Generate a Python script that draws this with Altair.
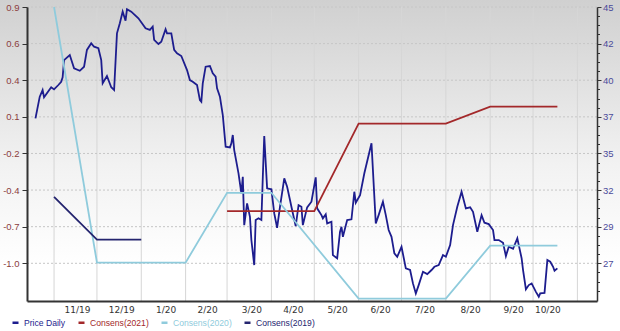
import json
import altair as alt
import pandas as pd

# ---------------- data ----------------
price_dates = [
    "2019-10-19", "2019-10-22", "2019-10-24", "2019-10-25", "2019-10-30", "2019-11-01", "2019-11-04",
    "2019-11-06", "2019-11-07", "2019-11-08", "2019-11-12", "2019-11-15", "2019-11-19", "2019-11-22",
    "2019-11-24", "2019-11-27", "2019-11-29", "2019-12-02", "2019-12-04", "2019-12-05", "2019-12-08",
    "2019-12-11", "2019-12-13", "2019-12-15", "2019-12-17", "2019-12-19", "2019-12-21", "2019-12-22",
    "2019-12-25", "2019-12-30", "2020-01-04", "2020-01-07", "2020-01-09", "2020-01-10", "2020-01-13",
    "2020-01-15", "2020-01-18", "2020-01-19", "2020-01-22", "2020-01-24", "2020-01-26", "2020-01-29",
    "2020-02-02", "2020-02-04", "2020-02-06", "2020-02-09", "2020-02-11", "2020-02-12", "2020-02-13",
    "2020-02-15", "2020-02-18", "2020-02-20", "2020-02-22", "2020-02-23", "2020-02-25", "2020-02-27",
    "2020-02-29", "2020-03-03", "2020-03-04", "2020-03-05", "2020-03-06", "2020-03-09", "2020-03-11",
    "2020-03-12", "2020-03-13", "2020-03-15", "2020-03-17", "2020-03-18", "2020-03-20", "2020-03-21",
    "2020-03-23", "2020-03-25", "2020-03-26", "2020-03-27", "2020-03-29", "2020-04-01", "2020-04-03",
    "2020-04-05", "2020-04-07", "2020-04-10", "2020-04-12", "2020-04-14", "2020-04-15", "2020-04-18",
    "2020-04-20", "2020-04-22", "2020-04-23", "2020-04-26", "2020-04-29", "2020-05-02", "2020-05-03",
    "2020-05-06", "2020-05-07", "2020-05-09", "2020-05-10", "2020-05-13", "2020-05-14", "2020-05-17",
    "2020-05-19", "2020-05-20", "2020-05-21", "2020-05-24", "2020-05-27", "2020-05-29", "2020-05-30",
    "2020-06-02", "2020-06-05", "2020-06-10", "2020-06-13", "2020-06-15", "2020-06-18", "2020-06-20",
    "2020-06-22", "2020-06-24", "2020-06-26", "2020-06-28", "2020-07-01", "2020-07-04", "2020-07-07",
    "2020-07-09", "2020-07-11", "2020-07-13", "2020-07-16", "2020-07-19", "2020-07-22", "2020-07-24",
    "2020-07-27", "2020-07-30", "2020-08-01", "2020-08-04", "2020-08-06", "2020-08-09", "2020-08-12",
    "2020-08-15", "2020-08-18", "2020-08-20", "2020-08-23", "2020-08-26", "2020-08-28", "2020-08-31",
    "2020-09-03", "2020-09-04", "2020-09-07", "2020-09-10", "2020-09-12", "2020-09-14", "2020-09-17",
    "2020-09-20", "2020-09-21", "2020-09-23", "2020-09-24", "2020-09-26", "2020-09-28", "2020-09-30",
    "2020-10-03", "2020-10-05", "2020-10-06", "2020-10-09", "2020-10-11", "2020-10-13", "2020-10-15",
    "2020-10-16", "2020-10-18",
]
price_values = [
    37.09, 38.63, 39.10, 38.59, 39.30, 39.15, 39.46,
    39.69, 40.01, 41.23, 41.59, 40.65, 40.47, 40.76,
    41.95, 42.42, 42.18, 42.07, 41.23, 39.58, 40.10,
    39.30, 39.10, 43.13, 43.84, 44.67, 44.03, 44.84,
    44.67, 44.20, 43.49, 43.37, 43.60, 42.66, 42.37,
    42.53, 43.42, 43.13, 43.13, 41.95, 41.71, 41.52,
    40.52, 39.81, 39.69, 39.46, 38.39, 38.27, 39.58,
    40.76, 40.81, 40.29, 40.05, 39.22, 38.63, 37.33,
    35.08, 35.03, 35.32, 35.91, 34.84, 33.19, 31.77,
    32.94, 29.51, 31.05, 30.10, 28.45, 26.67, 29.87,
    29.99, 29.87, 32.94, 35.84, 32.12, 32.05, 30.34,
    29.32, 30.81, 32.83, 32.23, 31.29, 30.81, 29.44,
    30.93, 30.81, 29.51, 30.77, 31.17, 32.90, 30.70,
    30.22, 29.99, 30.27, 29.63, 29.75, 27.38, 27.15,
    29.04, 29.39, 28.68, 29.87, 29.92, 31.88, 31.10,
    31.64, 33.19, 35.32, 29.63, 30.22, 31.17, 30.22,
    29.16, 28.68, 27.50, 27.26, 27.97, 26.44, 26.32,
    25.37, 24.66, 25.25, 26.20, 26.03, 26.32, 26.55,
    26.67, 27.38, 27.26, 28.09, 29.51, 30.81, 31.88,
    30.70, 30.77, 30.46, 29.04, 30.22, 29.68, 29.58,
    29.16, 28.45, 28.45, 28.26, 27.31, 27.97, 27.83,
    28.57, 28.09, 27.15, 26.32, 24.95, 25.25, 25.37,
    24.77, 24.42, 24.66, 24.70, 27.03, 26.91, 26.55,
    26.27, 26.44,
]

c2021_dates = ["2020-03-01", "2020-05-01", "2020-06-01", "2020-08-01", "2020-09-01", "2020-10-18"]
c2021_values = [-0.605, -0.605, 0.04, 0.04, 0.165, 0.165]

c2020_dates = ["2019-11-01", "2019-12-01", "2020-02-01", "2020-03-01", "2020-04-01",
               "2020-06-01", "2020-08-01", "2020-09-01", "2020-10-18"]
c2020_values = [0.90, -0.985, -0.985, -0.47, -0.47, -1.25, -1.25, -0.86, -0.86]

c2019_dates = ["2019-11-01", "2019-12-01", "2020-01-01"]
c2019_values = [-0.50, -0.815, -0.815]

series_names = ["Price Daily", "Consens(2021)", "Consens(2020)", "Consens(2019)"]
series_colors = ["#1d1d8e", "#a3282a", "#8fcbdc", "#25256f"]

left_tick_values = [0.9, 0.63, 0.36, 0.09, -0.18, -0.45, -0.72, -0.99]
left_tick_labels = ["0.9", "0.6", "0.4", "0.1", "-0.2", "-0.4", "-0.7", "-1.0"]
left_domain = [-1.268, 0.9]

right_tick_values = [45, 42.4, 39.8, 37.2, 34.6, 32.0, 29.4, 26.8]
right_tick_labels = ["45", "42", "40", "37", "35", "32", "29", "27"]
right_minor_ticks = [45, 44.35, 43.7, 43.05, 42.4, 41.75, 41.1, 40.45, 39.8, 39.15, 38.5, 37.85,
                     37.2, 36.55, 35.9, 35.25, 34.6, 33.95, 33.3, 32.65, 32.0, 31.35, 30.7, 30.05,
                     29.4, 28.75, 28.1, 27.45, 26.8, 26.15, 25.5, 24.85]
right_domain = [24.12, 45]

x_label_dates = ["2019-11-17", "2019-12-18", "2020-01-18", "2020-02-16", "2020-03-18", "2020-04-16",
                 "2020-05-17", "2020-06-16", "2020-07-17", "2020-08-18", "2020-09-17", "2020-10-11"]
grid_dates = ["2019-11-01", "2019-12-01", "2020-01-01", "2020-02-01", "2020-03-01", "2020-04-01",
              "2020-05-01", "2020-06-01", "2020-07-01", "2020-08-01", "2020-09-01", "2020-10-01",
              "2020-11-01"]
x_domain = [(2019, 10, 13, 2), (2020, 11, 14, 17)]

# ---------------- tables ----------------
price_df = pd.DataFrame({"date": price_dates, "price": price_values, "series": "Price Daily"})
cons_df = pd.concat([
    pd.DataFrame({"date": c2021_dates, "value": c2021_values, "series": "Consens(2021)"}),
    pd.DataFrame({"date": c2020_dates, "value": c2020_values, "series": "Consens(2020)"}),
    pd.DataFrame({"date": c2019_dates, "value": c2019_values, "series": "Consens(2019)"}),
], ignore_index=True)
grid_df = pd.DataFrame({"date": grid_dates})
hgrid_df = pd.DataFrame({"v": left_tick_values})
bg_df = pd.DataFrame({"a": [0]})


def dt(s):
    y, m, d = (int(p) for p in s.split("-"))
    return alt.DateTime(year=y, month=m, date=d, utc=True)


x_scale = alt.Scale(type="utc", domain=[alt.DateTime(year=a, month=b, date=c, hours=h, utc=True)
                                        for (a, b, c, h) in x_domain])
x_axis = alt.Axis(values=[dt(s) for s in x_label_dates], format="%-m/%y", ticks=False, grid=False,
                  domainColor="#333333", domainWidth=2, labelFont="DejaVu Sans", labelFontSize=9,
                  labelColor="#333333", labelPadding=4, title=None, labelOverlap=False,
                  labelFlush=False, zindex=1)

color_scale = alt.Scale(domain=series_names, range=series_colors)
legend_color_expr = (f"{json.dumps(series_colors)}[indexof({json.dumps(series_names)}, datum.value)]")
legend_def = alt.Legend(
    orient="none", legendX=-16, legendY=311, direction="horizontal", title=None,
    symbolType="stroke", symbolStrokeWidth=2.5, symbolSize=36, labelFont="Liberation Sans",
    labelFontSize=8.6, columnPadding=7, labelOffset=4,
    labelColor=alt.ExprRef(expr=legend_color_expr),
)

left_expr = (f"indexof({json.dumps(left_tick_values)}, datum.value) >= 0 ? "
             f"{json.dumps(left_tick_labels)}[indexof({json.dumps(left_tick_values)}, datum.value)] : ''")
left_axis = alt.Axis(orient="left", values=left_tick_values, labelExpr=left_expr, grid=False,
                     domainColor="#333333", domainWidth=2, tickColor="#333333", tickSize=5,
                     labelColor="#8b3d3d", labelFont="Liberation Sans", labelFontSize=9.5,
                     labelPadding=3, title=None, labelOverlap=False, zindex=1)

major_test = f"indexof({json.dumps(right_tick_values)}, datum.value) >= 0"
right_expr = (f"{major_test} ? {json.dumps(right_tick_labels)}"
              f"[indexof({json.dumps(right_tick_values)}, datum.value)] : ''")
right_axis = alt.Axis(orient="right", values=right_minor_ticks, labelExpr=right_expr, grid=False,
                      domainColor="#333333", domainWidth=1.5, tickColor="#333333",
                      tickSize={"condition": {"test": major_test, "value": 4}, "value": 2.5},
                      labelColor="#4b4b9a", labelFont="Liberation Sans", labelFontSize=9.5,
                      labelPadding=1.5, title=None, labelOverlap=False, zindex=1)

# ---------------- layers ----------------
bg = alt.Chart(bg_df).mark_rect(
    color=alt.LinearGradient(gradient="linear", x1=0, x2=0, y1=0, y2=1, stops=[
        alt.GradientStop(color="#d0d0d0", offset=0),
        alt.GradientStop(color="#f2f2f2", offset=0.5),
        alt.GradientStop(color="#ffffff", offset=0.8),
        alt.GradientStop(color="#ffffff", offset=1),
    ])
).encode(x=alt.value(-27), x2=alt.value(593), y=alt.value(-7), y2=alt.value(324))

vgrid = alt.Chart(grid_df).mark_rule(color="#d6d6d6", strokeWidth=1).encode(
    x=alt.X("date:T", scale=x_scale, axis=x_axis))

hgrid = alt.Chart(hgrid_df).mark_rule(color="#c6c6c6", strokeWidth=1, strokeDash=[2, 2]).encode(
    y=alt.Y("v:Q", scale=alt.Scale(domain=left_domain, nice=False, zero=False), axis=None))

price = alt.Chart(price_df).mark_line(strokeWidth=1.8).encode(
    x=alt.X("date:T", scale=x_scale, axis=x_axis),
    y=alt.Y("price:Q", scale=alt.Scale(domain=right_domain, nice=False, zero=False), axis=right_axis),
    color=alt.Color("series:N", scale=color_scale, legend=legend_def),
)

cons = alt.Chart(cons_df).mark_line(strokeWidth=1.8).encode(
    x=alt.X("date:T", scale=x_scale, axis=x_axis),
    y=alt.Y("value:Q", scale=alt.Scale(domain=left_domain, nice=False, zero=False), axis=left_axis),
    color=alt.Color("series:N", scale=color_scale, legend=legend_def),
)

chart = alt.layer(bg, vgrid, hgrid, price, cons).resolve_scale(y="independent").properties(
    width=570, height=294,
    autosize=alt.AutoSizeParams(type="none"),
    padding={"left": 27, "top": 7, "right": 23, "bottom": 30},
    background="#ffffff",
).configure_view(stroke=None)

chart.save("out.html", embed_options={"renderer": "svg", "actions": False})
